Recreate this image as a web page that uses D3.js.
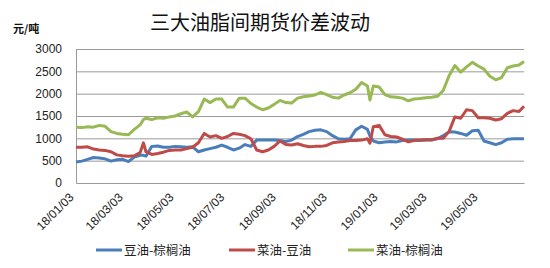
<!DOCTYPE html>
<html>
<head>
<meta charset="utf-8">
<script src="https://cdn.jsdelivr.net/npm/d3@7"></script>
<style>
  html, body { margin: 0; padding: 0; background: #fff; }
  svg { display: block; }
</style>
</head>
<body>
<svg id="chart" width="550" height="268"></svg>
<script>
// ---- data ----
const dates = [
  "2018-01-03","2018-01-10","2018-01-17","2018-01-24","2018-01-31","2018-02-07","2018-02-14","2018-02-21",
  "2018-02-28","2018-03-07","2018-03-14","2018-03-21","2018-03-25","2018-03-28","2018-04-04","2018-04-11",
  "2018-04-18","2018-04-25","2018-05-02","2018-05-09","2018-05-16","2018-05-23","2018-05-30","2018-06-06",
  "2018-06-13","2018-06-20","2018-06-27","2018-07-04","2018-07-11","2018-07-18","2018-07-25","2018-08-01",
  "2018-08-08","2018-08-15","2018-08-22","2018-08-29","2018-09-05","2018-09-12","2018-09-19","2018-09-26",
  "2018-10-03","2018-10-10","2018-10-17","2018-10-24","2018-10-31","2018-11-07","2018-11-14","2018-11-21",
  "2018-11-28","2018-12-05","2018-12-12","2018-12-19","2018-12-22","2018-12-26","2019-01-02","2019-01-09",
  "2019-01-16","2019-01-23","2019-01-30","2019-02-06","2019-02-13","2019-02-20","2019-02-27","2019-03-06",
  "2019-03-13","2019-03-20","2019-03-27","2019-04-03","2019-04-10","2019-04-17","2019-04-24","2019-05-01",
  "2019-05-08","2019-05-15","2019-05-22","2019-05-29","2019-06-05","2019-06-12","2019-06-19","2019-06-25"
];
// 豆油-棕榈油
const soyPalm = [
  470,490,530,570,560,540,490,520,
  530,480,580,620,620,600,820,830,
  800,800,820,810,800,810,700,740,
  770,800,850,800,740,780,860,820,
  960,960,960,960,950,930,960,1040,
  1090,1150,1180,1190,1150,1060,990,980,
  990,1190,1270,1200,1050,940,900,920,
  930,920,950,960,960,950,960,960,
  990,1060,1150,1140,1110,1070,1170,1180,
  940,900,860,900,980,990,990,990
];
// 菜油-豆油
const rapeSoy = [
  800,800,810,760,740,730,700,630,
  610,600,610,680,900,700,640,660,
  690,730,740,740,770,800,900,1110,
  1030,1060,1000,1040,1110,1090,1060,990,
  740,700,740,820,940,860,850,880,
  840,810,820,820,840,900,920,930,
  950,950,960,990,890,1260,1290,1080,
  1040,1030,980,920,950,960,970,970,
  1000,1000,1150,1480,1450,1640,1620,1460,
  1460,1450,1410,1440,1560,1620,1600,1720
];
// 菜油-棕榈油
const rapePalm = [
  1250,1240,1260,1250,1290,1270,1150,1110,
  1090,1080,1200,1300,1420,1450,1420,1460,
  1450,1480,1500,1550,1590,1480,1600,1880,
  1800,1880,1880,1700,1700,1900,1900,1780,
  1700,1640,1680,1760,1850,1800,1790,1900,
  1930,1950,1970,2030,1980,1920,1900,1970,
  2020,2100,2250,2170,1860,2170,2150,1980,
  1930,1920,1900,1840,1880,1890,1910,1920,
  1940,2070,2400,2630,2480,2600,2700,2620,
  2550,2390,2310,2360,2580,2620,2640,2720
];
const seriesNames = ["豆油-棕榈油", "菜油-豆油", "菜油-棕榈油"];
const seriesColors = ["#4a7ebb", "#be4b48", "#98b954"];
const yTicks = [0, 500, 1000, 1500, 2000, 2500, 3000];
const xTickDates = ["2018-01-03","2018-03-03","2018-05-03","2018-07-03","2018-09-03","2018-11-03","2019-01-03","2019-03-03","2019-05-03"];
const xDomain = ["2018-01-03", "2019-06-25"];
const titleText = "三大油脂间期货价差波动";
const unitText = "元/吨";

// ---- drawing ----
const parse = d3.timeParse("%Y-%m-%d");
const svg = d3.select("#chart");
const mLeft = 76, mRight = 524, mTop = 49, mBottom = 183;

const x = d3.scaleTime().domain(xDomain.map(parse)).range([mLeft, mRight]);
const y = d3.scaleLinear().domain([0, 3000]).range([mBottom, mTop]);

// gridlines
const grid = svg.append("g").attr("transform", `translate(${mLeft},0)`)
  .call(d3.axisLeft(y).tickValues(yTicks.filter(v => v > 0)).tickSize(-(mRight - mLeft)).tickFormat(""));
grid.select(".domain").remove();
grid.selectAll("line").attr("stroke", "#9a9a9a").attr("stroke-width", 1);

// y axis
const yAxis = svg.append("g").attr("transform", `translate(${mLeft},0)`)
  .call(d3.axisLeft(y).tickValues(yTicks).tickSize(0).tickPadding(14).tickFormat(d3.format("d")));
yAxis.select(".domain").attr("stroke", "#9a9a9a");
yAxis.selectAll("text")
  .attr("font-family", "'Liberation Sans', Arial, sans-serif")
  .attr("font-size", "12px").attr("fill", "#222");

// x axis
const xAxis = svg.append("g").attr("transform", `translate(0,${mBottom})`)
  .call(d3.axisBottom(x).tickValues(xTickDates.map(parse)).tickSize(0)
    .tickFormat(d3.timeFormat("%y/%m/%d")));
xAxis.select(".domain").attr("stroke", "#9a9a9a");
xAxis.selectAll("text")
  .attr("font-family", "'Liberation Sans', Arial, sans-serif")
  .attr("font-size", "12px").attr("fill", "#222")
  .attr("x", 0).attr("y", 0).attr("dy", 0)
  .attr("text-anchor", "end")
  .attr("transform", "translate(-2,15) rotate(-45)");

// lines
const seriesData = [soyPalm, rapeSoy, rapePalm];
const line = d3.line().x((d, i) => x(parse(dates[i]))).y(d => y(d));
seriesData.forEach((vals, k) => {
  svg.append("path")
    .datum(vals)
    .attr("fill", "none")
    .attr("stroke", seriesColors[k])
    .attr("stroke-width", 3)
    .attr("stroke-linejoin", "round")
    .attr("d", line);
});

// title
svg.append("text")
  .attr("x", 260).attr("y", 30)
  .attr("text-anchor", "middle")
  .attr("font-family", "'Noto Sans CJK SC', sans-serif")
  .attr("font-size", "20px").attr("fill", "#111")
  .text(titleText);

// unit label
svg.append("text")
  .attr("x", 13).attr("y", 33)
  .attr("font-family", "'Noto Sans CJK SC', sans-serif")
  .attr("font-size", "11px").attr("font-weight", "bold").attr("fill", "#111")
  .text(unitText);

// legend
const legendX = [96, 229, 348];
seriesNames.forEach((name, k) => {
  const g = svg.append("g").attr("transform", `translate(${legendX[k]},250)`);
  g.append("line").attr("x1", 0).attr("x2", 26).attr("y1", 0).attr("y2", 0)
    .attr("stroke", seriesColors[k]).attr("stroke-width", 3);
  g.append("text").attr("x", 28).attr("y", 4.5)
    .attr("font-family", "'Noto Sans CJK SC', sans-serif")
    .attr("font-size", "12.5px").attr("fill", "#222")
    .text(name);
});
</script>
</body>
</html>
